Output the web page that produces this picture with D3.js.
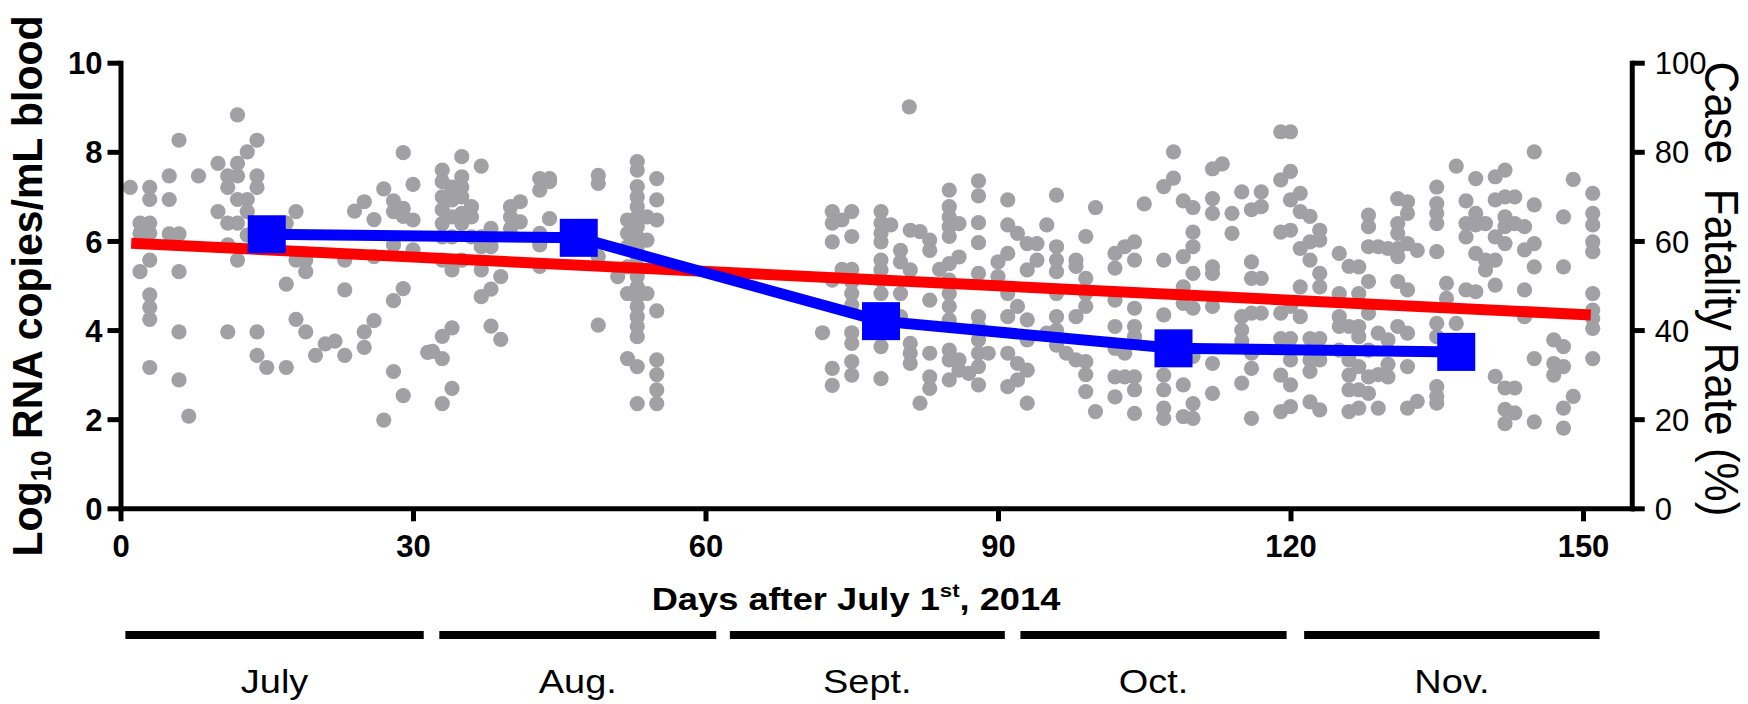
<!DOCTYPE html>
<html>
<head>
<meta charset="utf-8">
<script src="https://cdn.jsdelivr.net/npm/d3@7"></script>
<style>
  html, body { margin: 0; padding: 0; background: #fff; }
  svg { display: block; font-family: "Liberation Sans", Arial, sans-serif; }
</style>
</head>
<body>
<svg id="chart" width="1748" height="704"></svg>
<script>
// ---------------- DATA ----------------
// Viral load per patient: [day after July 1st 2014, log10 RNA copies/mL]
const viralLoad = [
  [1,7.2],[3,7.2],[3,6.93],[2,6.4],[3,6.4],[2,6.17],[3,6.17],[3,5.57],[2,5.31],[3,4.79],[3,4.51],[3,4.24],[3,3.16],
  [5,7.46],[5,6.93],[5,6.16],[6,6.16],[6,8.26],[6,5.31],[6,3.96],[6,2.88],[7,2.07],[8,7.46],[10,7.74],[11,7.46],[11,7.2],
  [12,7.74],[12,7.46],[12,8.83],[10,6.66],[11,6.4],[12,6.4],[12,6.93],[13,6.93],[11,5.91],[12,5.57],[11,3.96],[13,8.0],
  [14,8.26],[14,7.46],[14,7.2],[13,6.66],[13,6.13],[14,3.96],[14,3.43],[15,3.16],[17,3.16],[17,5.03],[17,6.4],[18,6.66],
  [18,5.57],[19,5.57],[19,5.31],[18,4.24],[19,3.96],[20,3.43],[21,3.69],[22,3.75],[23,3.43],[23,5.57],[23,4.9],[24,6.67],
  [25,6.88],[25,3.96],[25,3.61],[26,4.21],[26,6.48],[26,5.65],[27,7.17],[28,6.9],[28,6.66],[29,6.73],[29,6.55],[30,6.47],
  [28,5.91],[28,4.66],[29,4.93],[28,3.07],[27,1.98],[29,2.53],[29,7.98],[30,7.27],[30,5.8],[31.5,3.5],
  [35,7.89],[37,7.68],[33,7.59],[35,7.44],[33,7.33],[35,7.21],[34,7.21],[33,6.99],[35,6.99],[34,6.92],[36,6.77],[33,6.7],
  [36,6.54],[35,6.62],[34,6.54],[33,6.39],[35,6.39],[38,6.28],[33,6.09],[34,6.09],[36,6.09],[37,6.09],[38,5.87],[37,5.87],
  [33,5.57],[34,5.35],[35,5.57],[37,5.35],[39,5.2],[38,4.92],[37,4.75],[34,4.05],[33,3.86],[38,4.09],[39,3.79],[32,3.52],
  [33,3.36],[34,2.69],[33,2.35],[40,6.77],[41,6.88],[40,6.54],[41,6.43],[40,6.28],[43,7.4],[44,7.4],[43,7.14],[44,7.33],
  [44,6.5],[43,6.17],[43,5.91],[43,5.43],[49,7.47],[49,7.29],[49,5.65],[49,4.11],
  [53,7.78],[53,7.59],[53,7.22],[53,6.99],[53,6.77],[53,6.54],[53,6.32],[53,6.09],[53,5.87],[53,5.65],[53,5.42],[53,5.2],
  [53,4.97],[53,4.75],[53,4.53],[53,4.3],[53,4.08],[53,3.85],[53,2.35],[52,6.47],[52,6.17],[52,5.87],[52,5.42],[52,4.82],
  [52,3.36],[53,3.18],[55,7.4],[55,6.92],[55,6.47],[54,6.54],[54,6.02],[54,4.82],[55,4.43],[55,3.33],[55,3.0],[55,2.66],
  [55,2.35],[51,5.2],
  [80.9,9.01],
  [73,6.66],[75,6.66],[74,6.47],[73,6.4],[75,6.1],[73,5.98],[74,5.36],[75,5.36],[73,5.12],[75,5.08],[75,4.82],[75,4.56],
  [72,3.94],[75,3.94],[75,3.7],[73,3.14],[75,3.29],[75,2.99],[73,2.76],
  [78,6.66],[78,6.4],[78,6.17],[78,5.98],[78,5.57],[78,5.35],[78,5.12],[78,4.82],[78,3.63],[78,2.91],[79,6.36],
  [80,5.79],[80,5.53],[80,4.82],[80,4.3],[81,6.24],[82,6.21],[81,5.35],[81,3.7],[81,3.48],[81,3.25],[82,2.36],
  [83,6.02],[83,5.79],[83,4.67],[83,3.48],[83,2.95],[83,2.69],[84,5.36],[85,5.49],
  [85,7.14],[85,6.77],[85,6.54],[85,6.32],[85,6.1],[85,5.12],[85,4.82],[85,4.53],[85,4.23],[85,3.55],[85,3.33],[85,2.88],
  [86,6.39],[86,5.64],[86,3.33],[86,3.1],
  [88,7.35],[88,7.01],[88,6.41],[88,5.96],[88,5.27],[88,4.3],[88,4.08],[88,3.78],[88,3.48],[88,3.18],[88,2.77],[87,3.03],[89,3.48],
  [91,6.92],[91,6.36],[90,5.53],[91,5.72],[90,5.2],[91,4.82],[91,4.3],[91,3.48],[91,2.73],[92,4.53],[92,6.17],
  [93,5.94],[93,5.35],[93,4.23],[93,3.78],[93,3.1],[93,2.36],[94,5.94],[94,5.57],[95,6.36],[92,3.25],[92,2.88],
  [96,5.87],[96,5.57],[96,5.31],[96,4.82],[96,4.3],[96,4.0],[96,3.66],[96,7.03],[95,3.93],
  [98,5.43],[98,5.57],[99,5.16],[99,4.82],[99,4.53],[98,4.3],[97,3.48],[98,3.33],[99,3.29],[99,3.0],[99,2.62],[100,2.17],
  [99,6.1],[100,6.75],[102,5.72],[102,5.39],[103,5.87],[104,5.98],[104,5.57],
  [102,4.67],[102,4.08],[102,3.59],[102,2.95],[102,2.5],[103,2.95],[104,2.95],[104,2.66],[104,2.13],
  [103,3.48],[104,4.08],[104,4.49],[104,3.85],[105,6.83],
  [107,5.57],[107,4.34],[107,2.99],[107,2.66],[107,2.25],[107,2.02],[107,7.22],[108,7.41],[108,8.0],
  [109,6.9],[109,5.65],[110,6.75],[110,5.87],[110,6.2],[110,5.27],[109,4.97],[110,4.49],[109,4.6],
  [109,2.77],[110,2.35],[110,2.02],[109,2.06],[110,3.41],[109,3.38],
  [112,6.95],[112,6.62],[112,5.42],[112,5.27],[112,4.53],[112,3.25],[112,2.58],[113,7.73],[112,7.62],
  [114,6.62],[114,6.17],[115,7.1],[116,6.7],[117,7.1],[117,6.77],[115,2.81],[116,2.02],
  [116,5.53],[116,5.16],[117,5.16],[115,4.3],[115,4.0],[116,4.38],[117,4.38],[115,3.76],[116,3.48],[116,3.14],
  [119,8.45],[120,8.45],[119,7.37],[120,7.56],
  [120,6.92],[121,7.07],[121,6.66],[122,6.55],[120,6.24],[119,6.2],[123,6.24],[123,6.02],[122,5.98],[121,5.83],
  [122,5.57],[123,5.27],[123,4.97],[121,4.97],[119,4.38],[120,4.53],[121,4.3],[119,3.81],[120,3.81],[122,3.81],[123,3.81],
  [120,3.33],[122,3.33],[123,3.33],[119,2.99],[120,2.77],[122,3.07],[119,2.17],[120,2.28],[122,2.39],[123,2.21],
  [125,5.72],[126,5.43],[125,4.82],[125,4.3],[125,4.08],[126,4.08],[125,3.55],[126,3.33],[126,2.99],[126,2.66],[126,2.17],
  [127,5.42],[128,5.09],[127,4.82],[128,4.38],[127,4.08],[127,3.85],[128,3.55],[127,3.18],[128,2.95],[127,2.66],[128,2.58],
  [129,2.25],[127,2.25],[128,6.58],[128,6.32],[128,5.87],[129,5.87],[130,5.83],
  [131,6.95],[132,6.88],[132,6.62],[131,6.39],[131,6.17],[131,5.83],[131,5.65],[132,5.94],[133,5.79],[131,5.09],[132,4.9],
  [129,3.93],[130,3.78],[131,4.08],[132,3.93],[132,3.18],[130,3.23],[129,3.0],[130,2.95],[132,2.25],[133,2.4],
  [135,7.21],[135,6.84],[135,6.62],[135,6.39],[135,5.76],[136,5.05],[136,4.71],[135,4.15],[135,3.85],[137,4.15],
  [135,2.73],[135,2.51],[135,2.36],[137,7.68],
  [138,6.9],[138,6.39],[138,6.09],[139,7.4],[139,6.62],[139,6.36],[140,6.39],[139,5.72],[140,5.57],[140,5.35],[141,5.57],
  [141,7.44],[142,7.59],[141,6.92],[142,6.99],[143,6.99],
  [141,6.09],[142,6.54],[142,6.32],[143,6.39],[144,6.32],[144,5.8],[145,5.94],[142,5.94],
  [138,4.9],[139,4.86],[141,5.01],[144,4.9],[144,4.3],[145,6.81],[145,5.42],[145,8.0],
  [141,2.96],[142,2.7],[143,2.7],[142,2.22],[143,2.14],[142,1.9],[145,1.94],[145,3.36],
  [147,3.78],[148,3.63],[147,3.25],[148,3.18],[147,2.99],[148,2.25],[149,2.51],[148,1.8],
  [148,6.54],[148,5.42],[149,7.38],
  [151,7.07],[151,6.62],[151,6.36],[151,5.98],[151,5.76],[151,4.82],[151,4.45],[151,4.26],[151,4.04],[151,3.36]
];

// Linear trend of viral load (left axis)
const trendDays   = [1.1, 150.8];
const trendValues = [5.95, 4.34];

// Monthly case fatality rate (right axis, %)
const cfrDays   = [15, 47, 78, 108, 137];
const cfrValues = [61.5, 60.7, 42.0, 35.9, 35.1];

// Axis ticks
const xTicks  = [0, 30, 60, 90, 120, 150];
const yTicks  = [0, 2, 4, 6, 8, 10];
const y2Ticks = [0, 20, 40, 60, 80, 100];

// Month bars below the axis (in days)
const monthNames = ["July", "Aug.", "Sept.", "Oct.", "Nov."];
const monthStart = [0.5, 32.7, 62.5, 92.3, 121.4];
const monthEnd   = [31.1, 61.1, 90.7, 119.6, 151.7];

// ---------------- CHART ----------------
const svg = d3.select("#chart");
svg.append("rect").attr("width", 1748).attr("height", 704).attr("fill", "#fff");

const x  = d3.scaleLinear().domain([0, 155]).range([120.5, 1631.75]);
const y  = d3.scaleLinear().domain([0, 10]).range([508.3, 62.7]);
const y2 = d3.scaleLinear().domain([0, 100]).range([508.3, 62.7]);

const AXW = 5;

// scatter
svg.append("g").selectAll("circle").data(viralLoad).join("circle")
  .attr("cx", d => x(d[0])).attr("cy", d => y(d[1])).attr("r", 7.6)
  .attr("fill", "#a0a0a5");

// trend line (red)
svg.append("path")
  .datum(trendDays.map((d, i) => [d, trendValues[i]]))
  .attr("d", d3.line().x(d => x(d[0])).y(d => y(d[1])))
  .attr("fill", "none").attr("stroke", "#ff0000").attr("stroke-width", 11);

// CFR line (blue)
const cfr = cfrDays.map((d, i) => [d, cfrValues[i]]);
svg.append("path").datum(cfr)
  .attr("d", d3.line().x(d => x(d[0])).y(d => y2(d[1])))
  .attr("fill", "none").attr("stroke", "#0000ff").attr("stroke-width", 11)
  .attr("stroke-linejoin", "miter");
const SQ = 38;
svg.append("g").selectAll("rect").data(cfr).join("rect")
  .attr("x", d => x(d[0]) - SQ / 2).attr("y", d => y2(d[1]) - SQ / 2)
  .attr("width", SQ).attr("height", SQ).attr("fill", "#0000ff");

// axes
function styleAxis(g) {
  g.select(".domain").attr("stroke", "#000").attr("stroke-width", AXW).attr("stroke-linecap", "square");
  g.selectAll(".tick line").attr("stroke", "#000").attr("stroke-width", AXW);
  g.selectAll(".tick text").attr("fill", "#000").attr("font-family", "'Liberation Sans', Arial, sans-serif");
}

const gx = svg.append("g").attr("transform", `translate(0,${y(0)})`)
  .call(d3.axisBottom(x).tickValues(xTicks).tickSize(13).tickSizeOuter(0).tickPadding(14).tickFormat(d3.format("d")));
styleAxis(gx);
gx.selectAll(".tick text").attr("font-size", 31).attr("font-weight", "bold").attr("dy", "0.71em");

const gy = svg.append("g").attr("transform", `translate(${x(0)},0)`)
  .call(d3.axisLeft(y).tickValues(yTicks).tickSize(13).tickSizeOuter(0).tickPadding(5).tickFormat(d3.format("d")));
styleAxis(gy);
gy.selectAll(".tick text").attr("font-size", 31).attr("font-weight", "bold").attr("dy", "0.36em");

const gy2 = svg.append("g").attr("transform", `translate(${x(155)},0)`)
  .call(d3.axisRight(y2).tickValues(y2Ticks).tickSize(13).tickSizeOuter(0).tickPadding(10).tickFormat(d3.format("d")));
styleAxis(gy2);
gy2.selectAll(".tick text").attr("font-size", 31).attr("font-weight", "normal").attr("dy", "0.36em");

// left title
const lt = svg.append("text")
  .attr("transform", "translate(42,286) rotate(-90) scale(1,1.05)")
  .attr("text-anchor", "middle").attr("font-size", 41).attr("font-weight", "bold").attr("fill", "#000");
lt.append("tspan").text("Log");
lt.append("tspan").attr("font-size", 28).attr("dy", 9).text("10");
lt.append("tspan").attr("dy", -9).text(" RNA copies/mL blood");

// right title
svg.append("text")
  .attr("transform", "translate(1705,289) rotate(90) scale(1,1.1)")
  .attr("text-anchor", "middle").attr("font-size", 44).attr("fill", "#000")
  .attr("xml:space", "preserve")
  .text("Case  Fatality Rate (%)");

// x title
const xt = svg.append("text")
  .attr("transform", "translate(856,610) scale(1.17,1)")
  .attr("text-anchor", "middle").attr("font-size", 31).attr("font-weight", "bold").attr("fill", "#000");
xt.append("tspan").text("Days after July 1");
xt.append("tspan").attr("font-size", 19).attr("dy", -13).text("st");
xt.append("tspan").attr("dy", 13).text(", 2014");

// month bars + labels
const months = monthNames.map((n, i) => ({ n, s: monthStart[i], e: monthEnd[i] }));
svg.append("g").selectAll("line").data(months).join("line")
  .attr("x1", d => x(d.s)).attr("x2", d => x(d.e))
  .attr("y1", 635).attr("y2", 635)
  .attr("stroke", "#000").attr("stroke-width", 8);
svg.append("g").selectAll("text").data(months).join("text")
  .attr("transform", d => `translate(${(x(d.s) + x(d.e)) / 2},693) scale(1.15,1)`)
  .attr("text-anchor", "middle").attr("font-size", 33).attr("fill", "#000")
  .text(d => d.n);
</script>
</body>
</html>
